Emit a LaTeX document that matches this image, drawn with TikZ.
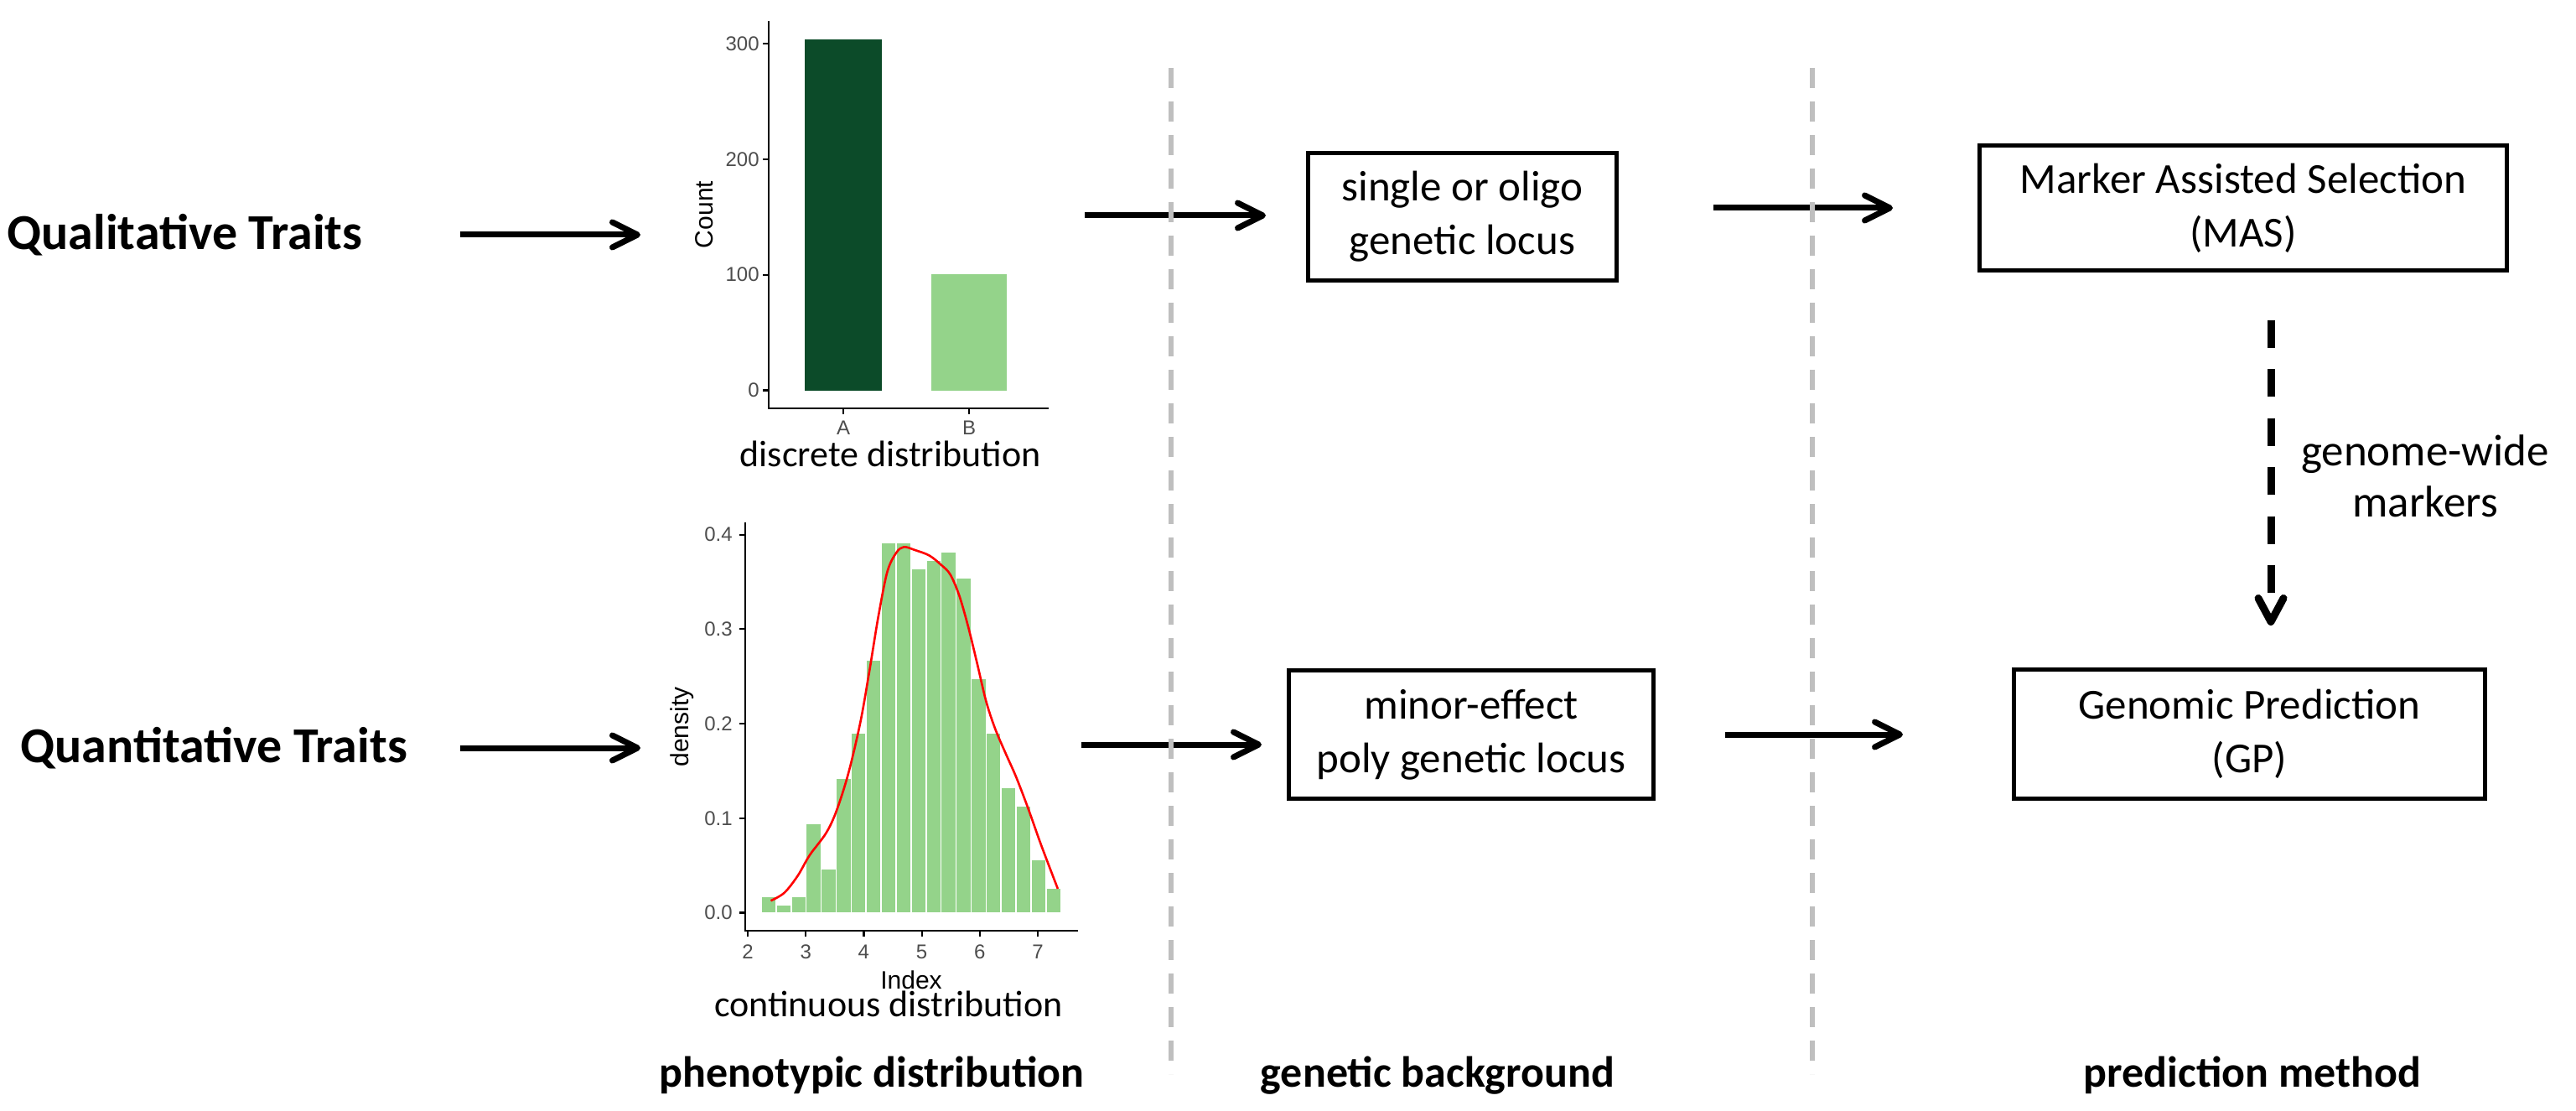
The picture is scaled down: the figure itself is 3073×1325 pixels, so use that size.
\documentclass[tikz,border=0pt]{standalone}
\usepackage{fontspec}
\setmainfont{Carlito}
\newfontfamily\plotfont{Liberation Sans}
\usetikzlibrary{arrows.meta}
\definecolor{darkgreen}{RGB}{12,75,41}
\definecolor{lightgreen}{RGB}{148,211,138}
\definecolor{sepgray}{RGB}{191,191,191}
\definecolor{ticktext}{RGB}{77,77,77}
\begin{document}
\begin{tikzpicture}[x=0.5pt,y=-0.5pt,
  boxnode/.style={draw, line width=2.5pt, align=center, inner sep=0pt, font=\fontsize{25.5pt}{32pt}\selectfont},
  traitlabel/.style={font=\fontsize{30pt}{36pt}\selectfont\bfseries, anchor=west, inner sep=0pt},
  collabel/.style={font=\fontsize{26pt}{31pt}\selectfont\bfseries, anchor=base, inner sep=0pt},
  distlabel/.style={font=\fontsize{22pt}{26pt}\selectfont, anchor=base, inner sep=0pt},
  sidelabel/.style={font=\fontsize{26.5pt}{30.5pt}\selectfont, align=center, inner sep=0pt},
  flow/.style={line width=3.5pt, -{Straight Barb[length=15pt,width=15pt,line cap=round,line join=round]}},
  dashflow/.style={line width=4.5pt, dash pattern=on 16.5pt off 12.75pt, -{Straight Barb[length=14pt,width=15pt,line cap=round,line join=round]}},
  sepline/.style={sepgray, line width=3pt, dash pattern=on 12pt off 8pt},
  axisline/.style={line width=1.1pt, line cap=rect},
  tickmark/.style={line width=1.1pt},
  ticklab/.style={font=\plotfont\fontsize{12pt}{14pt}\selectfont, text=ticktext, inner sep=0pt},
  axtitle/.style={font=\plotfont\fontsize{15pt}{18pt}\selectfont, inner sep=0pt},
]
\useasboundingbox (0,0) rectangle (3073,1325);

% ---- row labels
\node[traitlabel] (qual) at (8,280) {Qualitative Traits};
\node[traitlabel] (quant) at (24,892) {Quantitative Traits};

% ---- boxes
\node[boxnode, minimum width=184pt, minimum height=76pt] (box1) at (1744.5,258.5) {single or oligo\\genetic locus};
\node[boxnode, minimum width=217.5pt, minimum height=76.5pt] (box2) at (1755,876) {minor-effect\\poly genetic locus};
\node[boxnode, minimum width=314.5pt, minimum height=74.5pt] (mas) at (2676,248) {Marker Assisted Selection\\(MAS)};
\node[boxnode, minimum width=281pt, minimum height=77pt] (gp) at (2683.5,875.5) {Genomic Prediction\\(GP)};

% ---- bar chart (discrete)
\fill[darkgreen] (960,465.6) rectangle (1052,47.4);
\fill[lightgreen] (1111,465.6) rectangle (1201,327);
\draw[axisline] (917,26) -- (917,487) -- (1250,487);
\foreach \yy/\lab [count=\k] in {465.6/0,327.7/100,189.8/200,51.9/300}{
  \draw[tickmark] (910,\yy) -- (917,\yy);
  \node[ticklab, anchor=east] (bt\k) at (906,\yy) {\lab};
}
\draw[tickmark] (1006,487) -- (1006,494);
\draw[tickmark] (1156,487) -- (1156,494);
\node[ticklab] (blA) at (1006,510) {A};
\node[ticklab] (blB) at (1156,510) {B};
\node[axtitle, rotate=90] (count) at (840,256) {Count};
\node[distlabel] (disc) at (1062,557) {discrete distribution};

% ---- histogram (continuous)
\begin{scope}[shift={(753.6,1088.5)}]
\begin{scope}[x=34.6pt,y=563.5pt]
  \foreach \h [count=\i from 0] in {0.0174,0.0083,0.0174,0.0945,0.0463,0.142,0.190,0.267,0.392,0.392,0.364,0.373,0.382,0.354,0.248,0.190,0.1325,0.113,0.056,0.0264}{
    \filldraw[fill=lightgreen, draw=white, line width=0.8pt] ({2.23+\i*0.2586},0) rectangle ({2.23+(\i+1)*0.2586},\h);
  }
  \draw[red, line width=1.3pt] plot[smooth, tension=0.55] coordinates {
    (2.397,0.0127) (2.629,0.021) (2.861,0.039) (3.067,0.0608) (3.351,0.0843) (3.531,0.108)
    (3.737,0.148) (3.943,0.202) (4.098,0.256) (4.253,0.314) (4.407,0.361) (4.562,0.381)
    (4.691,0.387) (4.871,0.384) (5.129,0.378) (5.335,0.368) (5.490,0.358) (5.644,0.336)
    (5.799,0.303) (5.954,0.264) (6.108,0.224) (6.263,0.195) (6.443,0.169) (6.624,0.144)
    (6.830,0.111) (7.036,0.0753) (7.191,0.050) (7.345,0.0253)};
  \draw[axisline] (1.957,0.412) -- (1.957,-0.0191) -- (7.68,-0.0191);
  \foreach \d [count=\k] in {0.0,0.1,0.2,0.3,0.4}{
    \draw[tickmark] (1.856,\d) -- (1.957,\d);
    \node[ticklab, anchor=east] (ht\k) at (1.74,\d) {\d};
  }
  \foreach \v [count=\k] in {2,3,4,5,6,7}{
    \draw[tickmark] (\v,-0.0191) -- (\v,-0.0253);
    \node[ticklab] (hx\k) at (\v,-0.0413) {\v};
  }
\end{scope}
\end{scope}
\node[axtitle, rotate=90] (dens) at (814,867) {density};
\node[axtitle] (idx) at (1087,1169) {Index};
\node[distlabel] (cont) at (1060,1212) {continuous distribution};

% ---- connectors
\coordinate (a1s) at (549,280);
\coordinate (a1e) at (764,280);
\coordinate (a2s) at (549,892);
\coordinate (a2e) at (764,892);
\coordinate (a3s) at (1294,257);
\coordinate (a5s) at (1290,888);
\coordinate (dx) at (2709,0);
\draw[flow] (a1s) -- (a1e);
\draw[flow] (a2s) -- (a2e);
\draw[flow, shorten >=24pt] (a3s) -- (a3s -| box1.west);
\draw[flow, shorten >=15pt] (a5s) -- (a5s -| box2.west);
\draw[flow, shorten <=56.5pt, shorten >=50.5pt] (box1.east |- mas.west) -- (mas.west);
\draw[flow, shorten <=41.5pt, shorten >=65pt] (box2.east) -- (box2.east -| gp.west);
\draw[dashflow, shorten <=28.5pt, shorten >=25pt] (mas.south -| dx) -- (gp.north -| dx);
\node[sidelabel] (gwm) at (2893,568) {genome-wide\\markers};

% ---- separators
\draw[sepline] (1397,81) -- (1397,1281);
\draw[sepline] (2162,81) -- (2162,1281);

% ---- column labels
\node[collabel] (c1) at (1040,1296) {phenotypic distribution};
\node[collabel] (c2) at (1715,1296) {genetic background};
\node[collabel] (c3) at (2687,1296) {prediction method};
\end{tikzpicture}
\end{document}
